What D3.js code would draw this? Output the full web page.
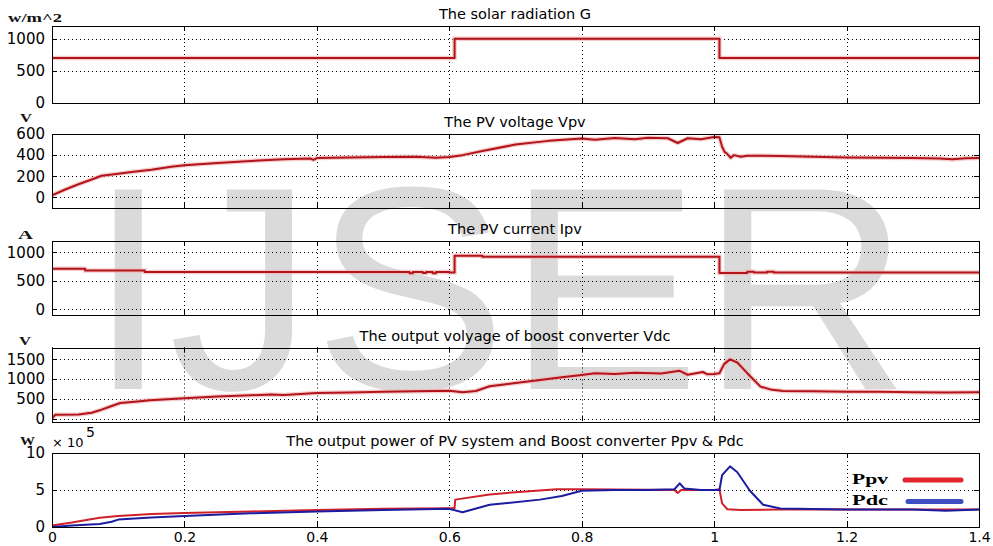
<!DOCTYPE html>
<html>
<head>
<meta charset="utf-8">
<script src="https://cdn.jsdelivr.net/npm/d3@7"></script>
<style>
  body { margin: 0; background: #fff; }
  svg { display: block; }
  .tick text { font-family: "DejaVu Sans", sans-serif; font-size: 15px; fill: #000; }
  .xlab .tick text { font-size: 14px; }
  .title { font-family: "DejaVu Sans", sans-serif; font-size: 14.5px; fill: #000; }
  .unit { font-family: "Liberation Serif", serif; font-weight: bold; font-size: 12px; fill: #111; }
</style>
</head>
<body>
<div id="chart"></div>
<script>
// ---- data ----
var timeTicks = [0, 0.2, 0.4, 0.6, 0.8, 1, 1.2, 1.4];

var titles = [
  "The solar radiation G",
  "The PV voltage Vpv",
  "The PV current Ipv",
  "The output volyage of boost converter Vdc",
  "The output power of PV system and Boost converter Ppv & Pdc"
];
var units = ["w/m^2", "V", "A", "V", "W"];
var legendLabels = ["Ppv", "Pdc"];

// solar radiation (step)
var gTime = [0, 0.608, 1.008, 1.4];
var gVals = [700, 1000, 700, 700];
var gTicks = [0, 500, 1000];

// PV voltage
var vpvTime = [0, 0.02, 0.04, 0.06, 0.075, 0.1, 0.12, 0.15, 0.18, 0.2, 0.25, 0.3, 0.35, 0.39, 0.395, 0.4, 0.45, 0.5, 0.55, 0.58, 0.6,
  0.62, 0.65, 0.7, 0.75, 0.8, 0.82, 0.85, 0.88, 0.9, 0.93, 0.945, 0.96, 0.98, 1.0, 1.008,
  1.012, 1.016, 1.02, 1.025, 1.03, 1.04, 1.05, 1.1, 1.15, 1.2, 1.25, 1.3, 1.34, 1.36, 1.38, 1.4];
var vpvVals = [20, 75, 125, 170, 205, 225, 240, 262, 290, 305, 325, 345, 360, 368, 355, 372, 378, 382, 385, 375, 382,
  400, 440, 500, 535, 558, 545, 562, 550, 565, 560, 515, 560, 550, 572, 570,
  480, 430, 410, 375, 400, 385, 395, 392, 385, 378, 375, 372, 368, 360, 370, 372];
var vpvTicks = [0, 200, 400, 600];

// PV current (step)
var ipvTime = [0, 0.05, 0.14, 0.54, 0.545, 0.56, 0.565, 0.575, 0.58, 0.6, 0.608, 0.65, 1.008, 1.05, 1.06, 1.08, 1.09, 1.4];
var ipvVals = [712, 680, 655, 635, 655, 640, 655, 635, 655, 645, 940, 925, 640, 660, 645, 660, 648, 648];
var ipvTicks = [0, 500, 1000];

// boost converter output voltage
var vdcTime = [0, 0.005, 0.04, 0.06, 0.072, 0.087, 0.103, 0.125, 0.148, 0.2, 0.25, 0.3, 0.33, 0.35, 0.4, 0.45, 0.5, 0.55, 0.6,
  0.62, 0.64, 0.661, 0.7, 0.737, 0.77, 0.797, 0.82, 0.85, 0.88, 0.92, 0.948, 0.96, 0.983, 0.99, 1.0, 1.008,
  1.015, 1.024, 1.035, 1.05, 1.07, 1.085, 1.104, 1.15, 1.2, 1.25, 1.3, 1.35, 1.4];
var vdcVals = [0, 100, 105, 150, 210, 300, 395, 430, 465, 515, 560, 590, 610, 595, 650, 660, 680, 690, 705,
  665, 700, 820, 900, 975, 1050, 1100, 1150, 1130, 1160, 1140, 1210, 1110, 1180, 1120, 1130, 1150,
  1380, 1500, 1420, 1150, 810, 740, 700, 690, 680, 680, 670, 660, 670];
var vdcTicks = [0, 500, 1000, 1500];

// powers (x 10^5 W)
var ppvTime = [0, 0.03, 0.072, 0.1, 0.15, 0.2, 0.3, 0.4, 0.5, 0.6, 0.608, 0.609, 0.661, 0.7, 0.762, 0.8, 0.9, 0.94, 0.945, 0.95,
  1.0, 1.008, 1.012, 1.02, 1.04, 1.1, 1.2, 1.3, 1.4];
var ppvVals = [0.2, 0.6, 1.25, 1.5, 1.75, 1.9, 2.1, 2.3, 2.45, 2.55, 2.55, 3.7, 4.4, 4.7, 5.1, 5.1, 5.05, 5.0, 4.6, 5.0,
  5.0, 5.1, 3.2, 2.4, 2.3, 2.35, 2.35, 2.35, 2.35];
var pdcTime = [0, 0.03, 0.072, 0.09, 0.1, 0.15, 0.2, 0.3, 0.4, 0.5, 0.6, 0.62, 0.661, 0.737, 0.77, 0.8, 0.85, 0.9, 0.94, 0.948, 0.955,
  0.98, 1.0, 1.008, 1.012, 1.024, 1.035, 1.054, 1.074, 1.1, 1.2, 1.3, 1.35, 1.4];
var pdcVals = [0, 0.2, 0.4, 0.7, 1.0, 1.3, 1.5, 1.85, 2.1, 2.3, 2.45, 2.0, 3.0, 3.7, 4.2, 4.9, 5.0, 5.0, 5.1, 5.9, 5.2,
  5.0, 5.0, 5.0, 7.0, 8.2, 7.4, 4.9, 3.0, 2.5, 2.35, 2.35, 2.2, 2.35];
var powTicks = [0, 5, 10];

// ---- layout ----
var svg = d3.select("#chart").append("svg").attr("width", 993).attr("height", 546);

var x = d3.scaleLinear().domain([0, 1.4]).range([52, 979]);
var darkRed = "#b3141b";

var panels = [
  { top: 26, bottom: 103, ydom: [0, 1200], ticks: gTicks, unitY: 22, unitX: 8, unitW: 54,
    series: [{ t: gTime, v: gVals, step: true, color: darkRed, halo: true }] },
  { top: 134, bottom: 208, ydom: [-100, 600], ticks: vpvTicks, unitY: 122, unitX: 20, unitW: 12,
    series: [{ t: vpvTime, v: vpvVals, color: darkRed, halo: true }] },
  { top: 241, bottom: 315, ydom: [-100, 1200], ticks: ipvTicks, unitY: 239, unitX: 18, unitW: 15,
    series: [{ t: ipvTime, v: ipvVals, step: true, color: darkRed, halo: true }] },
  { top: 347.5, bottom: 421, ydom: [-60, 1800], ticks: vdcTicks, unitY: 345, unitX: 19, unitW: 12,
    series: [{ t: vdcTime, v: vdcVals, color: darkRed, halo: true }] },
  { top: 453, bottom: 527, ydom: [0, 10], ticks: powTicks, unitY: 445, unitX: 20, unitW: 15,
    series: [{ t: ppvTime, v: ppvVals, color: "#d0202a" }, { t: pdcTime, v: pdcVals, color: "#1c1ca0" }] }
];

// snap to pixel centre so 1px lines stay sharp
function px(v) { return Math.round(v) + 0.5; }

// watermark
svg.append("text")
  .attr("x", 88)
  .attr("y", 389)
  .style("font-family", "'Liberation Sans', Arial, sans-serif")
  .style("font-size", "290px")
  .style("fill", "#dadada")
  .text("IJSER");

panels.forEach(function (p, i) {
  var y = d3.scaleLinear().domain(p.ydom).range([p.bottom, p.top]);
  var g = svg.append("g");
  var x0 = x.range()[0], x1 = x.range()[1];
  var w = x1 - x0;

  // dotted grid
  g.selectAll("line.gy").data(p.ticks).enter().append("line")
    .attr("class", "gy")
    .attr("x1", x0).attr("x2", x1)
    .attr("y1", function (d) { return px(y(d)); })
    .attr("y2", function (d) { return px(y(d)); })
    .attr("stroke", "#000").attr("stroke-width", 1).attr("stroke-dasharray", "1,3");
  g.selectAll("line.gx").data(timeTicks).enter().append("line")
    .attr("class", "gx")
    .attr("y1", p.top).attr("y2", p.bottom)
    .attr("x1", function (d) { return px(x(d)); })
    .attr("x2", function (d) { return px(x(d)); })
    .attr("stroke", "#000").attr("stroke-width", 1).attr("stroke-dasharray", "1,3");

  // clip
  g.append("clipPath").attr("id", "clip" + i)
    .append("rect").attr("x", x0).attr("y", p.top).attr("width", w).attr("height", p.bottom - p.top);

  // series
  p.series.forEach(function (s) {
    var line = d3.line()
      .x(function (d, k) { return x(s.t[k]); })
      .y(function (d) { return y(d); })
      .curve(s.step ? d3.curveStepAfter : d3.curveLinear);
    if (s.halo) {
      g.append("path").datum(s.v)
        .attr("clip-path", "url(#clip" + i + ")")
        .attr("fill", "none")
        .attr("stroke", "#f1b5b5")
        .attr("stroke-opacity", 0.7)
        .attr("stroke-width", 4.5)
        .attr("d", line);
    }
    g.append("path").datum(s.v)
      .attr("clip-path", "url(#clip" + i + ")")
      .attr("fill", "none")
      .attr("stroke", s.color)
      .attr("stroke-width", 2)
      .attr("stroke-linejoin", "round")
      .attr("d", line);
  });

  // frame
  g.append("rect")
    .attr("x", px(x0)).attr("y", px(p.top))
    .attr("width", Math.round(w)).attr("height", Math.round(p.bottom - p.top))
    .attr("fill", "none").attr("stroke", "#000");

  // inner ticks on all four sides
  var tk = g.append("g").attr("stroke", "#000").attr("stroke-width", 1);
  timeTicks.forEach(function (d) {
    tk.append("line").attr("x1", px(x(d))).attr("x2", px(x(d))).attr("y1", p.top).attr("y2", p.top + 5);
    tk.append("line").attr("x1", px(x(d))).attr("x2", px(x(d))).attr("y1", p.bottom).attr("y2", p.bottom - 5);
  });
  p.ticks.forEach(function (d) {
    tk.append("line").attr("y1", px(y(d))).attr("y2", px(y(d))).attr("x1", x0).attr("x2", x0 + 5);
    tk.append("line").attr("y1", px(y(d))).attr("y2", px(y(d))).attr("x1", x1).attr("x2", x1 - 5);
  });

  // y tick labels
  var yl = g.append("g").attr("transform", "translate(" + x0 + ",0)")
    .call(d3.axisLeft(y).tickValues(p.ticks).tickSize(0).tickPadding(7).tickFormat(function (d) { return d; }));
  yl.select(".domain").remove();

  // title
  svg.append("text").attr("class", "title")
    .attr("x", 515).attr("y", p.top - 7)
    .attr("text-anchor", "middle")
    .text(titles[i]);

  // unit
  svg.append("text").attr("class", "unit")
    .attr("x", p.unitX).attr("y", p.unitY)
    .attr("textLength", p.unitW).attr("lengthAdjust", "spacingAndGlyphs")
    .text(units[i]);

  if (i === panels.length - 1) {
    // x tick labels
    var xl = g.append("g").attr("class", "xlab").attr("transform", "translate(0," + p.bottom + ")")
      .call(d3.axisBottom(x).tickValues(timeTicks).tickSize(0).tickPadding(5).tickFormat(function (d) { return d; }));
    xl.select(".domain").remove();

    // exponent
    svg.append("text")
      .attr("x", 52).attr("y", 446.5)
      .style("font-family", "'DejaVu Sans', sans-serif").style("font-size", "13px")
      .text("\u00d7 10");
    svg.append("text")
      .attr("x", 86).attr("y", 437)
      .style("font-family", "'DejaVu Sans', sans-serif").style("font-size", "14px")
      .text("5");

    // legend
    var legColors = ["#e3242b", "#3e4fc4"];
    var legY = [480, 501.5];
    var legX1 = [905, 908];
    legendLabels.forEach(function (lab, k) {
      svg.append("text")
        .attr("x", 852).attr("y", legY[k] + 3.5)
        .attr("textLength", 36).attr("lengthAdjust", "spacingAndGlyphs")
        .style("font-family", "'Liberation Serif', serif")
        .style("font-weight", "bold")
        .style("font-size", "15px")
        .text(lab);
      svg.append("line")
        .attr("x1", legX1[k]).attr("x2", 961)
        .attr("y1", legY[k]).attr("y2", legY[k])
        .attr("stroke", legColors[k])
        .attr("stroke-width", 5)
        .attr("stroke-linecap", "round");
    });
  }
});
</script>
</body>
</html>
